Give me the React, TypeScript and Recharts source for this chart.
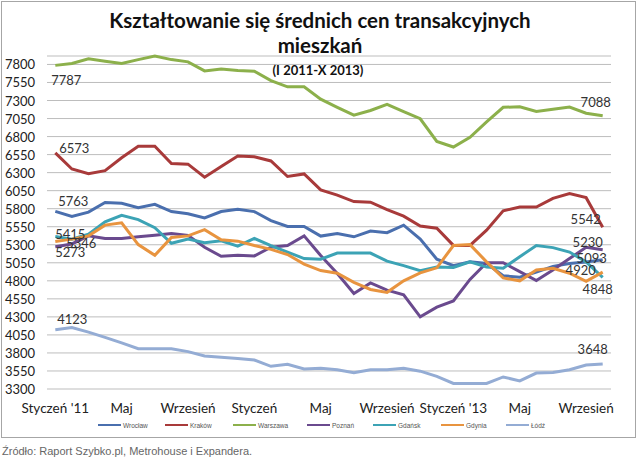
import React from 'react';
import { LineChart, Line, XAxis, YAxis, CartesianGrid, LabelList } from 'recharts';

const months = [
  "Styczeń '11", 'Luty', 'Marzec', 'Kwiecień', 'Maj', 'Czerwiec', 'Lipiec', 'Sierpień', 'Wrzesień', 'Październik', 'Listopad', 'Grudzień',
  'Styczeń', 'Luty', 'Marzec', 'Kwiecień', 'Maj', 'Czerwiec', 'Lipiec', 'Sierpień', 'Wrzesień', 'Październik', 'Listopad', 'Grudzień',
  "Styczeń '13", 'Luty', 'Marzec', 'Kwiecień', 'Maj', 'Czerwiec', 'Lipiec', 'Sierpień', 'Wrzesień', 'Październik',
];

const wroclaw = [5763, 5693, 5752, 5887, 5874, 5815, 5860, 5760, 5730, 5671, 5760, 5793, 5760, 5635, 5554, 5554, 5420, 5455, 5410, 5491, 5468, 5572, 5378, 5100, 5010, 5063, 5040, 4870, 4850, 4920, 5000, 5040, 5060, 5093];
const krakow = [6573, 6350, 6286, 6327, 6507, 6665, 6665, 6426, 6417, 6237, 6385, 6530, 6520, 6462, 6246, 6282, 6060, 5989, 5899, 5890, 5786, 5696, 5560, 5530, 5291, 5291, 5503, 5770, 5822, 5822, 5944, 6011, 5953, 5542];
const warszawa = [7787, 7813, 7877, 7845, 7813, 7867, 7917, 7867, 7836, 7710, 7737, 7715, 7705, 7575, 7489, 7489, 7318, 7205, 7097, 7161, 7246, 7147, 7047, 6732, 6655, 6790, 7003, 7205, 7214, 7147, 7178, 7210, 7124, 7088];
const poznan = [5273, 5311, 5423, 5387, 5387, 5410, 5432, 5455, 5430, 5266, 5140, 5153, 5145, 5266, 5289, 5423, 5150, 4900, 4625, 4770, 4670, 4605, 4300, 4435, 4520, 4820, 5050, 5050, 4928, 4805, 4950, 5108, 5266, 5230];
const gdansk = [5415, 5378, 5446, 5617, 5707, 5649, 5536, 5320, 5378, 5329, 5356, 5280, 5387, 5289, 5199, 5108, 5100, 5185, 5185, 5185, 5072, 5010, 4940, 4990, 4986, 5063, 4990, 4973, 5135, 5289, 5260, 5199, 5063, 4848];
const gdynia = [5346, 5378, 5423, 5572, 5604, 5302, 5153, 5401, 5423, 5509, 5368, 5350, 5289, 5236, 5164, 5032, 4942, 4905, 4779, 4680, 4640, 4800, 4910, 4980, 5289, 5302, 5063, 4840, 4800, 4950, 4973, 4905, 4793, 4920];
const lodz = [4123, 4151, 4088, 4016, 3939, 3858, 3858, 3858, 3818, 3759, 3741, 3723, 3701, 3615, 3642, 3579, 3588, 3566, 3525, 3566, 3566, 3588, 3547, 3476, 3377, 3377, 3377, 3467, 3413, 3521, 3530, 3566, 3633, 3648];

const seriesNames = ['Wrocław', 'Kraków', 'Warszawa', 'Poznań', 'Gdańsk', 'Gdynia', 'Łódź'];
const seriesValues = [wroclaw, krakow, warszawa, poznan, gdansk, gdynia, lodz];

const yTicks = [3300, 3550, 3800, 4050, 4300, 4550, 4800, 5050, 5300, 5550, 5800, 6050, 6300, 6550, 6800, 7050, 7300, 7550, 7800];

// styles
const colors = ['#4A6FAE', '#A83A3A', '#8CB04B', '#6A4A8E', '#3CA3B5', '#E8943F', '#94ACD4'];
const firstOffsets = [[18, -10], [19, -5], [11, 14.5], [15, 5], [15, -2.5], [26, 1.5], [17, -11]];
const lastOffsets = [[-11, -2], [-17, -8], [-7, -14], [-15, -8], [-5, 11.6], [-22, -2], [-10, -15]];
const legendLeft = [98, 165, 233, 307, 373, 441, 506];

const data = months.map((m, i) => {
  const row: Record<string, string | number> = { month: m };
  seriesValues.forEach((vals, k) => {
    row['s' + k] = vals[i];
  });
  return row;
});

const FONT = 'Lato, "Open Sans", sans-serif';

const YTick = (props: any) => {
  const { y, payload } = props;
  return (
    <text x={5} y={y} dominantBaseline="central" textAnchor="start" fontSize={13} fill="#222" fontFamily={FONT}>
      {payload.value}
    </text>
  );
};

const XTick = (props: any) => {
  const { x, y, payload } = props;
  return (
    <text x={x} y={y + 11} dominantBaseline="central" textAnchor="middle" fontSize={13.5} fill="#222" fontFamily={FONT}>
      {payload.value}
    </text>
  );
};

const makeLabel = (k: number) => (props: any) => {
  const { x, y, index, value } = props;
  const last = seriesValues[k].length - 1;
  if (index !== 0 && index !== last) return null;
  const off = index === 0 ? firstOffsets[k] : lastOffsets[k];
  return (
    <text x={x + off[0]} y={y + off[1]} dominantBaseline="central" textAnchor="middle" fontSize={13} fill="#333" fontFamily={FONT}>
      {value}
    </text>
  );
};

export default function App() {
  return (
    <div style={{ position: 'absolute', left: 0, top: 0, width: 640, height: 465, background: '#fff', overflow: 'hidden' }}>
      <div style={{ position: 'absolute', left: 1, top: 1, width: 635, height: 437, border: '1px solid #a6a6a6', boxSizing: 'border-box' }} />
      <div style={{ position: 'absolute', left: 0, top: 0 }}>
        <LineChart width={640} height={440} data={data} margin={{ top: 56, right: 29, left: 7, bottom: 21 }}>
          <CartesianGrid vertical={false} stroke="#bdbdbd" strokeWidth={1} />
          <XAxis
            dataKey="month"
            interval={3}
            padding={{ left: 8.3, right: 8.3 }}
            axisLine={false}
            tickLine={false}
            height={30}
            tick={<XTick />}
          />
          <YAxis
            domain={[3300, 7800]}
            ticks={yTicks}
            interval={0}
            axisLine={false}
            tickLine={false}
            width={40}
            tick={<YTick />}
          />
          {seriesNames.map((name, k) => (
            <Line
              key={name}
              name={name}
              type="linear"
              dataKey={'s' + k}
              stroke={colors[k]}
              strokeWidth={3}
              dot={false}
              isAnimationActive={false}
            >
              <LabelList dataKey={'s' + k} content={makeLabel(k)} />
            </Line>
          ))}
        </LineChart>
      </div>
      <div style={{ position: 'absolute', left: 0, width: 640, top: 8, textAlign: 'center', fontFamily: FONT, fontWeight: 700, fontSize: 20.5, lineHeight: '25px', color: '#111' }}>
        <div>Kształtowanie się średnich cen transakcyjnych</div>
        <div>mieszkań</div>
      </div>
      <div style={{ position: 'absolute', left: 0, width: 636, top: 62, textAlign: 'center', fontFamily: FONT, fontWeight: 700, fontSize: 13, lineHeight: '16px', color: '#111' }}>
        (I 2011-X 2013)
      </div>
      {seriesNames.map((name, k) => (
        <div key={name} style={{ position: 'absolute', left: legendLeft[k], top: 420, height: 10, display: 'flex', alignItems: 'center' }}>
          <div style={{ width: 23, height: 2.5, background: colors[k] }} />
          <div style={{ marginLeft: 2, fontFamily: '"Liberation Sans", Arial, sans-serif', fontSize: 6.5, color: '#555' }}>{name}</div>
        </div>
      ))}
      <div style={{ position: 'absolute', left: 2, top: 445, fontFamily: '"Liberation Sans", Arial, sans-serif', fontSize: 11, color: '#666' }}>
        Źródło: Raport Szybko.pl, Metrohouse i Expandera.
      </div>
    </div>
  );
}
